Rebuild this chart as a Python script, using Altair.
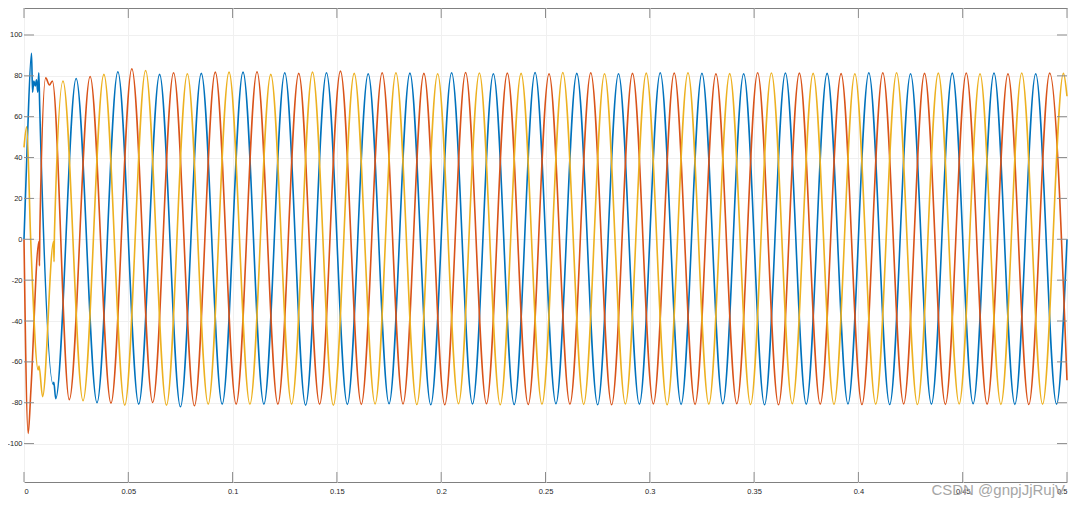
import altair as alt
import pandas as pd

# ---- axis ticks ----
X_TICKS = [0, 0.05, 0.1, 0.15, 0.2, 0.25, 0.3, 0.35, 0.4, 0.45, 0.5]
Y_TICKS = [-100, -80, -60, -40, -20, 0, 20, 40, 60, 80, 100]

SERIES = ["A", "B", "C"]
COLORS = ["#0072BD", "#D95319", "#EDB120"]
WATERMARK = "CSDN @gnpjJjRujV"

# ---- phase A (blue): start transient + extrema ----
A_T = [0.0, 0.0015, 0.0036, 0.0041, 0.0047, 0.0054, 0.0060, 0.0066, 0.0071, 0.0075, 0.0140, 0.0143, 0.0152,
       0.025, 0.035, 0.045, 0.055, 0.065, 0.075, 0.085, 0.095, 0.105, 0.115, 0.125, 0.135,
       0.145, 0.155, 0.165, 0.175, 0.185, 0.195, 0.205, 0.215, 0.225, 0.235, 0.245, 0.255,
       0.265, 0.275, 0.285, 0.295, 0.305, 0.315, 0.325, 0.335, 0.345, 0.355, 0.365, 0.375,
       0.385, 0.395, 0.405, 0.415, 0.425, 0.435, 0.445, 0.455, 0.465, 0.475, 0.485, 0.495,
       0.5]
A_V = [0, 45, 91, 72, 77.5, 75, 78, 72, 81.5, 66, -71, -70, -78,
       78.7, -80.0, 82.0, -80.7, 80.7, -82.0, 81.2, -80.7, 81.8, -80.7, 81.5, -81.2,
       81.5, -80.8, 81.0, -80.5, 81.3, -81.0, 81.5, -80.6, 81.0, -80.9, 81.6, -80.5,
       81.2, -81.0, 81.0, -80.7, 81.5, -80.8, 81.3, -80.5, 81.0, -81.0, 81.4, -80.7,
       81.2, -80.6, 81.5, -80.9, 81.0, -80.7, 81.3, -80.5, 81.4, -80.8, 81.0, -80.7,
       0]

# ---- phase B (red) ----
B_T = [0.0, 0.0020, 0.0033, 0.0072, 0.0074, 0.0076, 0.0104, 0.0122, 0.0136,
       0.0217, 0.0317, 0.0417, 0.0517, 0.0617, 0.0717, 0.0817, 0.0917, 0.1017, 0.1117, 0.1217, 0.1317,
       0.1417, 0.1517, 0.1617, 0.1717, 0.1817, 0.1917, 0.2017, 0.2117, 0.2217, 0.2317, 0.2417, 0.2517,
       0.2617, 0.2717, 0.2817, 0.2917, 0.3017, 0.3117, 0.3217, 0.3317, 0.3417, 0.3517, 0.3617, 0.3717,
       0.3817, 0.3917, 0.4017, 0.4117, 0.4217, 0.4317, 0.4417, 0.4517, 0.4617, 0.4717, 0.4817, 0.4917,
       0.5]
B_V = [0, -95, -74, -1, -13, 4, 79, 75.5, 77.5,
       -78.5, 79.7, -80.2, 83.5, -79.9, 81.5, -81.5, 81.8, -80.7, 82.0, -80.7, 81.2,
       -80.7, 82.3, -80.8, 81.5, -80.6, 81.2, -81.0, 81.6, -80.5, 81.3, -80.9, 81.0,
       -80.7, 81.5, -81.0, 81.2, -80.6, 81.4, -80.8, 81.0, -80.5, 81.5, -81.0, 81.3,
       -80.7, 81.1, -80.9, 81.5, -80.6, 81.2, -80.8, 81.4, -80.7, 81.0, -80.9, 81.3,
       -69]

# ---- phase C (yellow) ----
C_T = [0.0, 0.0013, 0.0032, 0.0068, 0.0072, 0.0089, 0.0142, 0.0144, 0.0146,
       0.0187, 0.0283, 0.0383, 0.0483, 0.0583, 0.0683, 0.0783, 0.0883, 0.0983, 0.1083, 0.1183, 0.1283,
       0.1383, 0.1483, 0.1583, 0.1683, 0.1783, 0.1883, 0.1983, 0.2083, 0.2183, 0.2283, 0.2383, 0.2483,
       0.2583, 0.2683, 0.2783, 0.2883, 0.2983, 0.3083, 0.3183, 0.3283, 0.3383, 0.3483, 0.3583, 0.3683,
       0.3783, 0.3883, 0.3983, 0.4083, 0.4183, 0.4283, 0.4383, 0.4483, 0.4583, 0.4683, 0.4783, 0.4883,
       0.4983, 0.5]
C_V = [45, 55, 0, -64, -62, -77, -1, -11, 3,
       77.4, -79.0, 80.7, -81.2, 82.6, -81.2, 81.0, -80.7, 81.8, -80.7, 80.7, -80.7,
       81.8, -81.2, 81.2, -80.6, 81.5, -80.9, 81.0, -80.5, 81.4, -81.0, 81.2, -80.7,
       81.6, -80.8, 81.0, -80.6, 81.3, -81.0, 81.5, -80.7, 81.1, -80.9, 81.4, -80.5,
       81.2, -80.8, 81.0, -80.7, 81.5, -80.9, 81.3, -80.6, 81.0, -80.8, 81.4, -80.7,
       81.2, 70]

rows = []
for name, ts, vs in [("A", A_T, A_V), ("B", B_T, B_V), ("C", C_T, C_V)]:
    if len(ts) != len(vs):
        raise ValueError(f"{name}: {len(ts)} times vs {len(vs)} values")
    rows += [{"t": t, "v": v, "phase": name} for t, v in zip(ts, vs)]
df = pd.DataFrame(rows)

W, H = 1043, 474
FONT = "Liberation Sans"
TICK_LEN = 10
TICK_COLOR = "#8c8c8c"
GRID_COLOR = "#f0f0f0"

xscale = alt.Scale(domain=[0, 0.5], nice=False, zero=False)
yscale = alt.Scale(domain=[-118.8, 113.2], nice=False, zero=False)

xaxis = alt.Axis(values=X_TICKS, grid=True, gridColor=GRID_COLOR, gridWidth=1,
                 domain=False, ticks=False, labelFont=FONT, labelFontSize=7.5,
                 labelColor="#262626", labelPadding=5, title=None,
                 labelExpr="'' + datum.value")
yaxis = alt.Axis(values=Y_TICKS, grid=True, gridColor=GRID_COLOR, gridWidth=1,
                 domain=False, ticks=False, labelFont=FONT, labelFontSize=7.5,
                 labelColor="#262626", labelPadding=2, title=None,
                 labelExpr="'' + datum.value")

lines = alt.Chart(df).mark_line(interpolate="monotone", strokeWidth=1.6).encode(
    x=alt.X("t:Q", scale=xscale, axis=xaxis),
    y=alt.Y("v:Q", scale=yscale, axis=yaxis),
    color=alt.Color("phase:N", scale=alt.Scale(domain=SERIES, range=COLORS), legend=None),
)

xt = pd.DataFrame({"xt": X_TICKS})
yt = pd.DataFrame({"yt": Y_TICKS})

bottom_ticks = alt.Chart(xt).mark_rule(color=TICK_COLOR, strokeWidth=1).encode(
    x=alt.X("xt:Q", scale=xscale, axis=xaxis),
    y=alt.value(H), y2=alt.value(H - TICK_LEN))
top_ticks = alt.Chart(xt).mark_rule(color=TICK_COLOR, strokeWidth=1).encode(
    x=alt.X("xt:Q", scale=xscale, axis=xaxis),
    y=alt.value(0), y2=alt.value(TICK_LEN))
left_ticks = alt.Chart(yt).mark_rule(color=TICK_COLOR, strokeWidth=1).encode(
    y=alt.Y("yt:Q", scale=yscale, axis=yaxis),
    x=alt.value(0), x2=alt.value(TICK_LEN))
right_ticks = alt.Chart(yt).mark_rule(color=TICK_COLOR, strokeWidth=1).encode(
    y=alt.Y("yt:Q", scale=yscale, axis=yaxis),
    x=alt.value(W), x2=alt.value(W - TICK_LEN))

watermark = alt.Chart(pd.DataFrame({"label": [WATERMARK]})).mark_text(
    align="right", baseline="middle", fontSize=15, color="#a6a6a6", font=FONT
).encode(x=alt.value(W - 2), y=alt.value(H + 8), text="label:N")

chart = alt.layer(lines, bottom_ticks, top_ticks, left_ticks, right_ticks, watermark).properties(
    width=W, height=H,
    padding={"left": 16, "top": 0, "right": 5, "bottom": 20},
    autosize=alt.AutoSizeParams(type="none"),
    background="white",
).configure_view(stroke="#808080", strokeWidth=1)

chart.save("out.html", embed_options={"renderer": "svg", "actions": False})
